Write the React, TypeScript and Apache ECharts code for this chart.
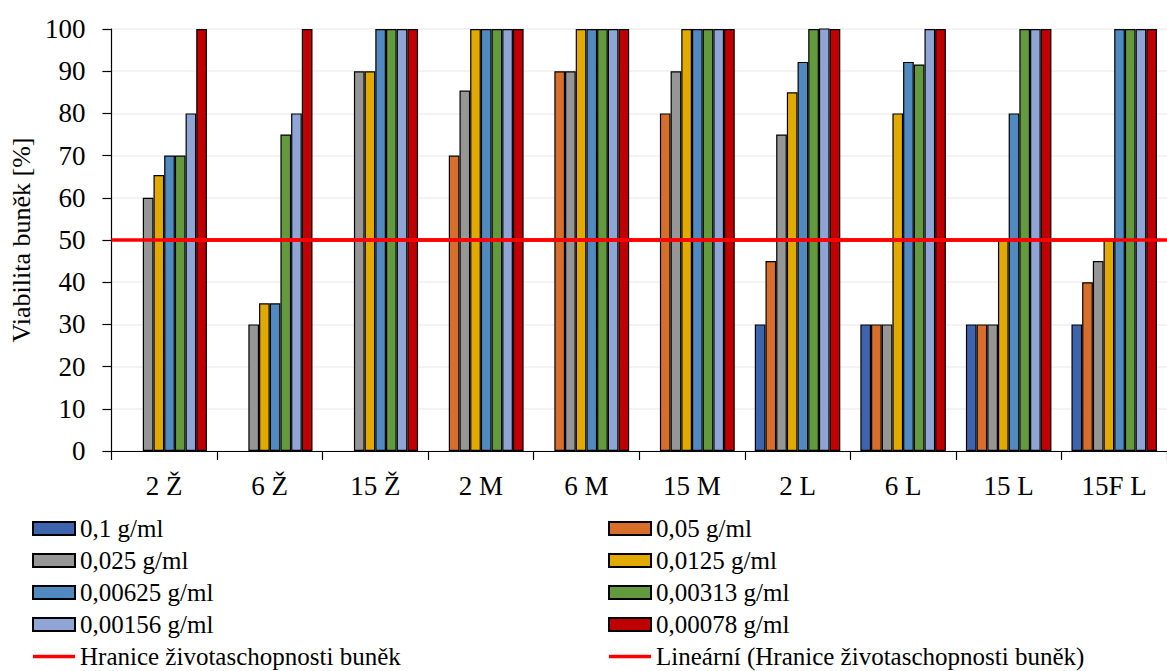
import React, { useEffect, useRef } from "react";
import * as echarts from "echarts";

const categories = ["2 Ž", "6 Ž", "15 Ž", "2 M", "6 M", "15 M", "2 L", "6 L", "15 L", "15F L"];
const seriesNames = [
  "0,1 g/ml",
  "0,05 g/ml",
  "0,025 g/ml",
  "0,0125 g/ml",
  "0,00625 g/ml",
  "0,00313 g/ml",
  "0,00156 g/ml",
  "0,00078 g/ml",
];
const s01 = [null, null, null, null, null, null, 30, 30, 30, 30];
const s005 = [null, null, null, 70, 90, 80, 45, 30, 30, 40];
const s0025 = [60, 30, 90, 85.4, 90, 90, 75, 30, 30, 45];
const s00125 = [65.4, 35, 90, 100, 100, 100, 85, 80, 50, 50];
const s000625 = [70, 35, 100, 100, 100, 100, 92.2, 92.2, 80, 100];
const s000313 = [70, 75, 100, 100, 100, 100, 100, 91.6, 100, 100];
const s000156 = [80, 80, 100, 100, 100, 100, 100.6, 100, 100, 100];
const s000078 = [100, 100, 100, 100, 100, 100, 100, 100, 100, 100];
const seriesValues = [s01, s005, s0025, s00125, s000625, s000313, s000156, s000078];
const colors = ["#3F64AE", "#D86E2B", "#969696", "#E2AA00", "#508AC0", "#649A3E", "#8FA5D6", "#C00000"];
const thresholdName = "Hranice životaschopnosti buněk";
const trendName = "Lineární (Hranice životaschopnosti buněk)";
const thresholdValues = [50, 50, 50, 50, 50, 50, 50, 50, 50, 50];
const yTicks = { min: 0, max: 100, interval: 10 };

const FONT = "Liberation Serif";
const LINE_ICON = "path://M0,0L42,0L42,3.5L0,3.5Z";

export default function App() {
  const ref = useRef<HTMLDivElement>(null);
  useEffect(() => {
    if (!ref.current) return;
    const chart = echarts.init(ref.current, undefined, { renderer: "svg" });
    const barSeries = seriesNames.map((name, i) => ({
      name,
      type: "bar",
      data: seriesValues[i],
      barGap: "0%",
      barCategoryGap: "19%",
      itemStyle: { color: colors[i], borderColor: "#000", borderWidth: 1.2 },
      z: 2,
    }));
    const legendText = { color: "#000", fontSize: 25, fontFamily: FONT, lineHeight: 24 };
    const legendBase = {
      orient: "vertical",
      top: 516,
      height: 200,
      padding: 0,
      icon: "rect",
      itemWidth: 42,
      itemHeight: 13,
      itemGap: 7,
      textStyle: legendText,
    };
    chart.setOption({
      animation: false,
      backgroundColor: "#fff",
      grid: { left: 110, top: 29, bottom: 220, width: 1070 },
      xAxis: {
        type: "category",
        data: categories,
        axisLine: { lineStyle: { color: "#000", width: 1.2 } },
        axisTick: { show: true, length: 9, alignWithLabel: false, lineStyle: { color: "#000", width: 1.2 } },
        axisLabel: { color: "#000", fontSize: 27, fontFamily: FONT, margin: 21, interval: 0 },
      },
      yAxis: {
        type: "value",
        min: yTicks.min,
        max: yTicks.max,
        interval: yTicks.interval,
        name: "Viabilita buněk [%]",
        nameLocation: "middle",
        nameGap: 76,
        nameTextStyle: { color: "#000", fontSize: 26, fontFamily: FONT },
        axisLine: { show: true, lineStyle: { color: "#000", width: 1.2 } },
        axisTick: { show: true, length: 9, lineStyle: { color: "#000", width: 1.2 } },
        axisLabel: { color: "#000", fontSize: 27, fontFamily: FONT, margin: 26 },
        splitLine: { show: true, lineStyle: { color: "#EFEFEF", width: 1.5 } },
      },
      legend: [
        {
          ...legendBase,
          left: 32,
          data: [
            seriesNames[0],
            seriesNames[2],
            seriesNames[4],
            seriesNames[6],
            { name: thresholdName, icon: LINE_ICON },
          ],
        },
        {
          ...legendBase,
          left: 608,
          data: [
            seriesNames[1],
            seriesNames[3],
            seriesNames[5],
            seriesNames[7],
            { name: trendName, icon: LINE_ICON },
          ],
        },
      ],
      series: [
        ...barSeries,
        {
          name: thresholdName,
          type: "line",
          data: thresholdValues,
          symbol: "none",
          lineStyle: { color: "#FF0000", width: 3.5 },
          itemStyle: { color: "#FF0000" },
          z: 5,
        },
        {
          name: trendName,
          type: "line",
          data: [],
          symbol: "none",
          lineStyle: { color: "#FF0000", width: 3.5 },
          itemStyle: { color: "#FF0000" },
          markLine: {
            silent: true,
            symbol: "none",
            label: { show: false },
            lineStyle: { color: "#FF0000", width: 3.5, type: "solid" },
            data: [{ yAxis: 50 }],
          },
          z: 5,
        },
      ],
    });
    return () => chart.dispose();
  }, []);
  return <div ref={ref} style={{ width: 1167, height: 671, position: "absolute", left: 0, top: 0 }} />;
}
